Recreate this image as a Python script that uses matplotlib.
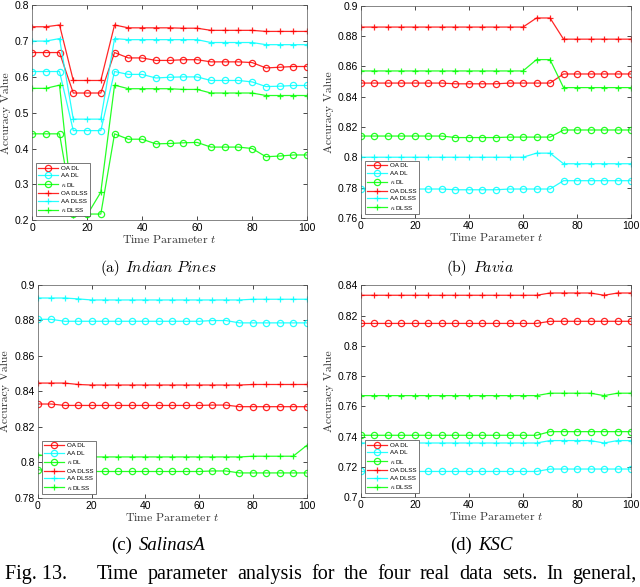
import matplotlib
matplotlib.use("Agg")
import matplotlib.pyplot as plt
import numpy as np

# time parameter t
t = list(range(0, 101, 5))

# (a) Indian Pines
ip_oa_dl = [0.668, 0.668, 0.668, 0.555, 0.555, 0.555, 0.668, 0.653, 0.653, 0.646, 0.646,
            0.648, 0.648, 0.642, 0.642, 0.642, 0.640, 0.625, 0.627, 0.629, 0.629]
ip_aa_dl = [0.615, 0.615, 0.615, 0.450, 0.450, 0.450, 0.615, 0.607, 0.607, 0.597, 0.599,
            0.600, 0.600, 0.590, 0.590, 0.590, 0.586, 0.573, 0.574, 0.576, 0.576]
ip_k_dl = [0.441, 0.441, 0.441, 0.217, 0.217, 0.217, 0.441, 0.426, 0.426, 0.413, 0.414,
           0.416, 0.417, 0.404, 0.404, 0.404, 0.400, 0.377, 0.379, 0.382, 0.382]
ip_oa_dlss = [0.740, 0.740, 0.745, 0.590, 0.590, 0.590, 0.745, 0.737, 0.737, 0.737, 0.737,
              0.736, 0.736, 0.730, 0.730, 0.730, 0.730, 0.727, 0.727, 0.727, 0.727]
ip_aa_dlss = [0.700, 0.700, 0.707, 0.482, 0.482, 0.482, 0.707, 0.704, 0.704, 0.704, 0.704,
              0.704, 0.704, 0.696, 0.696, 0.696, 0.696, 0.690, 0.690, 0.690, 0.690]
ip_k_dlss = [0.568, 0.568, 0.577, 0.214, 0.214, 0.278, 0.577, 0.567, 0.567, 0.567, 0.567,
             0.565, 0.565, 0.555, 0.555, 0.555, 0.555, 0.548, 0.548, 0.548, 0.548]

# (b) Pavia
pv_oa_dl = [0.849] * 7 + [0.8485] * 4 + [0.849] * 4 + [0.855] * 6
pv_aa_dl = [0.779] * 7 + [0.7785] * 4 + [0.779] * 4 + [0.7845] * 6
pv_k_dl = [0.814] * 7 + [0.813] * 4 + [0.8133] * 4 + [0.818] * 6
pv_oa_dlss = [0.886] * 13 + [0.892] * 2 + [0.878] * 6
pv_aa_dlss = [0.800] * 13 + [0.8027] * 2 + [0.7957] * 6
pv_k_dlss = [0.857] * 13 + [0.8645] * 2 + [0.846] * 6

# (c) SalinasA
sa_oa_dl = [0.8328, 0.8328] + [0.832] * 11 + [0.8322] * 2 + [0.8313] * 6
sa_aa_dl = [0.8805, 0.8805] + [0.8794] * 11 + [0.8798] * 2 + [0.8785] * 6
sa_k_dl = [0.7959] + [0.7948] * 12 + [0.7951] * 2 + [0.7940] * 6
sa_oa_dlss = [0.8446] * 3 + [0.8438] + [0.8435] * 12 + [0.8438] * 5
sa_aa_dlss = [0.8925] * 3 + [0.892] + [0.8914] * 12 + [0.8918] * 5
sa_k_dlss = [0.8043] + [0.803] * 15 + [0.8034] * 4 + [0.8094]

# (d) KSC
ksc_oa_dl = [0.8148] * 14 + [0.8162] * 7
ksc_aa_dl = [0.7170] * 14 + [0.7186] * 7
ksc_k_dl = [0.7409] * 14 + [0.7433] * 7
ksc_oa_dlss = [0.8334] * 14 + [0.8349] * 4 + [0.8334] + [0.8349] * 2
ksc_aa_dlss = [0.7358] * 14 + [0.7374] * 4 + [0.7358] + [0.7374] * 2
ksc_k_dlss = [0.7671] * 14 + [0.7687] * 4 + [0.7671] + [0.7687] * 2

labels = ["OA DL", "AA DL", r"$\kappa$ DL", "OA DLSS", "AA DLSS", r"$\kappa$ DLSS"]
colors = ["#ff0000", "#00ffff", "#00ff00"]

panels = [
    ([ip_oa_dl, ip_aa_dl, ip_k_dl, ip_oa_dlss, ip_aa_dlss, ip_k_dlss],
     (0.2, 0.8), np.arange(0.2, 0.81, 0.1)),
    ([pv_oa_dl, pv_aa_dl, pv_k_dl, pv_oa_dlss, pv_aa_dlss, pv_k_dlss],
     (0.76, 0.9), np.arange(0.76, 0.901, 0.02)),
    ([sa_oa_dl, sa_aa_dl, sa_k_dl, sa_oa_dlss, sa_aa_dlss, sa_k_dlss],
     (0.78, 0.9), np.arange(0.78, 0.901, 0.02)),
    ([ksc_oa_dl, ksc_aa_dl, ksc_k_dl, ksc_oa_dlss, ksc_aa_dlss, ksc_k_dlss],
     (0.7, 0.84), np.arange(0.7, 0.841, 0.02)),
]

rects = [
    [0.050, 0.625, 0.430, 0.366],
    [0.564, 0.629, 0.422, 0.361],
    [0.059, 0.152, 0.420, 0.363],
    [0.564, 0.153, 0.422, 0.361],
]

# sub captions: tag, name, tag x px, name x px, y px, font
captions = [
    ("(a)", "Indian Pines", 100, 125, 268, "cm"),
    ("(b)", "Pavia", 447, 473, 268, "cm"),
    ("(c)", "SalinasA", 111, 139, 545, "times"),
    ("(d)", "KSC", 450, 478, 545, "times"),
]

serif = "Liberation Serif"
sans = "Liberation Sans"
cm = "cmr10"
plt.rcParams["mathtext.fontset"] = "cm"
plt.rcParams["axes.unicode_minus"] = False

W, H = 640, 587
fig = plt.figure(figsize=(6.4, 5.87), dpi=100)

for (series, ylim, yticks), rect in zip(panels, rects):
    ax = fig.add_axes(rect)
    for i, s in enumerate(series):
        marker = "o" if i < 3 else "+"
        ax.plot(t, s, color=colors[i % 3], marker=marker, markersize=4.5,
                markerfacecolor="none", markeredgewidth=0.9, linewidth=0.9, label=labels[i],
                alpha=0.85)
    ax.set_xlim(0, 100)
    ax.set_ylim(*ylim)
    ax.set_xticks([0, 20, 40, 60, 80, 100])
    ax.set_yticks(yticks)
    ax.set_yticklabels(["%g" % round(v, 2) for v in yticks])
    ax.tick_params(direction="in", length=3, width=0.5, labelsize=7.5, top=True, right=True,
                   pad=2)
    for lab in ax.get_xticklabels() + ax.get_yticklabels():
        lab.set_fontfamily(sans)
    for sp in ax.spines.values():
        sp.set_linewidth(0.5)
        sp.set_color("#555555")
    ax.set_xlabel(r"Time Parameter $t$", fontfamily=cm, fontsize=8.5, labelpad=0,
                  color="#333333")
    ax.set_ylabel("Accuracy Value", fontfamily=cm, fontsize=8.5, labelpad=3,
                  color="#333333")
    leg = ax.legend(loc="lower left", fancybox=False, framealpha=1,
                    edgecolor="#444444", borderpad=0.4, labelspacing=0.35,
                    handlelength=3.2, handletextpad=0.4, borderaxespad=0.6,
                    prop={"family": sans, "size": 4.5})
    leg.get_frame().set_linewidth(0.5)

for tag, name, xt, xn, yc, face in captions:
    if face == "cm":
        fig.text(xt / W, 1 - yc / H, tag, ha="left", va="center", fontfamily=cm,
                 fontsize=11.2)
        fig.text(xn / W, 1 - yc / H, r"$\mathit{" + name.replace(" ", r"\ ") + "}$",
                 ha="left", va="center", fontsize=11.2)
    else:
        fig.text(xt / W, 1 - yc / H, tag, ha="left", va="center", fontfamily=serif,
                 fontsize=13.5)
        fig.text(xn / W, 1 - yc / H, name, ha="left", va="center", fontfamily=serif,
                 fontstyle="italic", fontsize=13.5)

# figure caption, justified between x=97 and x=636 like the page
cap_words = ["Time", "parameter", "analysis", "for", "the", "four", "real", "data", "sets.",
             "In", "general,"]
fig.text(5 / W, 3 / H, "Fig. 13.", ha="left", va="bottom", fontfamily=serif,
         fontsize=14.5)
renderer = fig.canvas.get_renderer()
word_texts = [fig.text(0, 3 / H, w, ha="left", va="bottom", fontfamily=serif,
                       fontsize=14.5) for w in cap_words]
widths = [wt.get_window_extent(renderer).width for wt in word_texts]
x0, x1 = 97.0, 636.0
gap = (x1 - x0 - sum(widths)) / (len(cap_words) - 1)
xpos = x0
for wt, w in zip(word_texts, widths):
    wt.set_x(xpos / W)
    xpos += w + gap

fig.savefig("out.png", dpi=100)
